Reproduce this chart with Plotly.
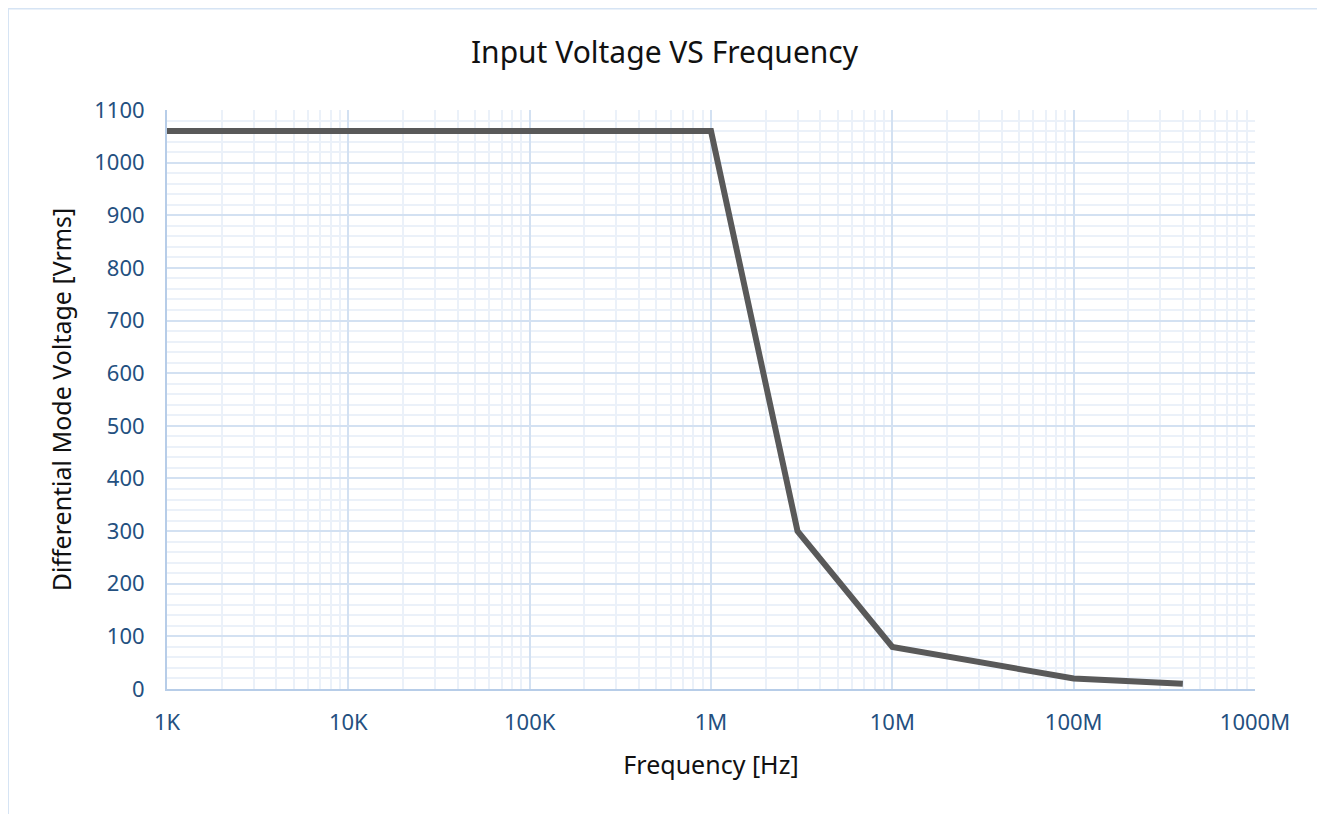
import plotly.graph_objects as go

freq_hz = [1e3, 1e6, 3e6, 1e7, 1e8, 4e8]
voltage_vrms = [1060, 1060, 300, 80, 20, 10]
x_tick_vals = [1e3, 1e4, 1e5, 1e6, 1e7, 1e8, 1e9]
x_tick_text = ["1K", "10K", "100K", "1M", "10M", "100M", "1000M"]
y_tick_vals = list(range(0, 1101, 100))

# page body has an 8px margin, so the figure origin sits at (8, 8)
OFF = 8
W, H = 1325 - OFF, 814 - OFF
L, R, T, B = 167 - OFF, 1325 - 1255, 110 - OFF, 814 - 689
pw, ph = W - L - R, H - T - B

FONT = "Noto Sans, Inter, sans-serif"
TICK_COLOR = "#24507f"
MAJOR = "#d3e1f2"
MINOR = "#ebf1f9"
AXIS = "#b7cde8"

fig = go.Figure()
fig.add_trace(go.Scatter(
    x=freq_hz, y=voltage_vrms, mode="lines",
    line=dict(color="#595959", width=6),
    showlegend=False, hoverinfo="x+y",
))

fig.update_layout(
    width=W, height=H,
    margin=dict(l=L, r=R, t=T, b=B),
    paper_bgcolor="white", plot_bgcolor="white",
    title=dict(text="Input Voltage VS Frequency", xref="container",
               x=(664.5 - OFF) / W, xanchor="center",
               y=1 - (52 - OFF) / H, yanchor="middle",
               font=dict(family=FONT, size=30, color="#111111")),
    font=dict(family=FONT),
    xaxis=dict(
        type="log", range=[3, 9],
        tickvals=x_tick_vals, ticktext=x_tick_text,
        tickfont=dict(size=22, color=TICK_COLOR),
        ticklabelstandoff=13,
        showgrid=True, gridcolor=MAJOR, gridwidth=2,
        minor=dict(showgrid=True, gridcolor=MINOR, gridwidth=2, dtick="D1"),
        showline=True, linecolor=AXIS, linewidth=2,
        ticks="", ticklen=0,
        title=dict(text="Frequency [Hz]", font=dict(size=25, color="#111111"), standoff=21),
        zeroline=False, mirror=False,
    ),
    yaxis=dict(
        range=[0, 1100], tickvals=y_tick_vals,
        tickfont=dict(size=22, color=TICK_COLOR),
        ticklabelstandoff=16,
        showgrid=True, gridcolor=MAJOR, gridwidth=2,
        minor=dict(showgrid=True, gridcolor=MINOR, gridwidth=2, dtick=20),
        showline=True, linecolor=AXIS, linewidth=2,
        ticks="", ticklen=0,
        title=dict(text="Differential Mode Voltage [Vrms]", font=dict(size=25, color="#111111"), standoff=16),
        zeroline=False,
    ),
    shapes=[dict(
        type="rect", xref="paper", yref="paper",
        x0=(8 - 167) / pw, x1=(1322 - 167) / pw,
        y0=(689 - 830) / ph, y1=(689 - 8.5) / ph,
        line=dict(color="#d6e4f4", width=2), fillcolor="rgba(0,0,0,0)", layer="below",
    )],
)

fig.write_html("out.html")
